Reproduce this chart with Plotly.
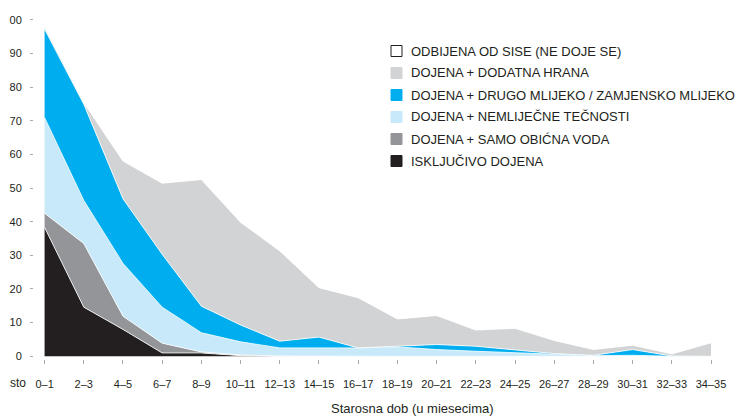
import plotly.graph_objects as go

FONT = "Liberation Sans, Arial, sans-serif"
INK = "#231f20"

age_groups = ["0–1", "2–3", "4–5", "6–7", "8–9", "10–11", "12–13", "14–15", "16–17",
              "18–19", "20–21", "22–23", "24–25", "26–27", "28–29", "30–31", "32–33", "34–35"]

# percent of children in each feeding group (stacked bottom to top)
exclusive = [38.3, 14.6, 8.0, 1.0, 1.0, 0.2, 0, 0, 0, 0, 0, 0, 0, 0, 0, 0, 0, 0]
plain_water = [4.2, 18.9, 3.9, 2.9, 0.3, 0.2, 0.1, 0, 0, 0, 0, 0, 0, 0, 0, 0, 0, 0]
non_milk = [28.4, 12.8, 15.7, 10.7, 5.7, 3.9, 2.4, 2.5, 2.5, 2.8, 2.0, 1.5, 1.0, 0.5, 0.2, 0.3, 0, 0]
other_milk = [26.3, 28.6, 19.2, 15.7, 7.9, 5.0, 2.0, 3.2, 0, 0.2, 1.5, 1.5, 1.0, 0.3, 0.1, 1.7, 0.1, 0]
complementary = [0.6, 0.4, 11.2, 21.1, 37.6, 30.5, 26.8, 14.7, 14.9, 8.1, 8.6, 4.8, 6.3, 3.9, 1.7, 1.3, 0.6, 4.0]
weaned = [2.2, 24.5, 42.0, 48.6, 47.5, 60.2, 68.7, 79.6, 82.6, 88.9, 87.9, 92.2, 91.7, 95.3, 98.0, 96.7, 99.3, 96.0]

y_ticks = [0, 10, 20, 30, 40, 50, 60, 70, 80, 90, 100]
y_ticktext = ["0", "10", "20", "30", "40", "50", "60", "70", "80", "90", "00"]

series = [
    ("ISKLJUČIVO DOJENA", exclusive, "#231f20"),
    ("DOJENA + SAMO OBIĆNA VODA", plain_water, "#939598"),
    ("DOJENA + NEMLIJEČNE TEČNOSTI", non_milk, "#c7e9f9"),
    ("DOJENA + DRUGO MLIJEKO / ZAMJENSKO MLIJEKO", other_milk, "#00aeef"),
    ("DOJENA + DODATNA HRANA", complementary, "#d1d3d4"),
    ("ODBIJENA OD SISE (NE DOJE SE)", weaned, "#ffffff"),
]

# the page body adds an 8px offset, so the figure is 8px smaller than the window
OFF = 8
W, H = 744 - OFF, 416 - OFF
L, R, T, B = 26, 13, 10, 57


def px(x, y):
    """Window pixel position -> paper coordinates."""
    return ((x - OFF - L) / (W - L - R), (H - B - (y - OFF)) / (H - T - B))


x_idx = list(range(len(age_groups)))

fig = go.Figure()
for name, vals, col in series:
    fig.add_trace(go.Scatter(
        x=x_idx, y=vals, name=name, stackgroup="one", mode="lines",
        line=dict(color="white", width=0.8), fillcolor=col,
        showlegend=False,
    ))

# hand-drawn legend, top to bottom as in the original
for i, (name, vals, col) in enumerate(reversed(series)):
    cy = 51 + 22 * i
    x0, y0 = px(391, cy - 5.5)
    x1, y1 = px(402, cy + 5.5)
    fig.add_shape(type="rect", xref="paper", yref="paper", x0=x0, x1=x1, y0=y0, y1=y1,
                  fillcolor=col, line=dict(color=INK if col == "#ffffff" else col, width=1))
    tx, ty = px(409, cy)
    fig.add_annotation(text=name, x=tx, y=ty, xref="paper", yref="paper",
                       xanchor="left", yanchor="middle", showarrow=False,
                       font=dict(family=FONT, size=13, color=INK))

sx, sy = px(8, 383)
fig.add_annotation(text="sto", x=sx, y=sy, xref="paper", yref="paper",
                   xanchor="left", yanchor="middle", showarrow=False,
                   font=dict(family=FONT, size=12, color=INK))
ax, ay = px(412, 408)
fig.add_annotation(text="Starosna dob (u miesecima)", x=ax, y=ay, xref="paper", yref="paper",
                   xanchor="center", yanchor="middle", showarrow=False,
                   font=dict(family=FONT, size=13, color=INK))

fig.update_layout(
    width=W, height=H,
    margin=dict(l=L, r=R, t=T, b=B, autoexpand=False),
    plot_bgcolor="white", paper_bgcolor="white",
    font=dict(family=FONT, size=11, color=INK),
    showlegend=False,
    xaxis=dict(
        range=[-0.27, 17.51], tickmode="array", tickvals=x_idx, ticktext=age_groups,
        ticks="outside", ticklen=4, tickcolor="#a7a9ac", showgrid=False,
        zeroline=False, showline=False, ticklabelstandoff=11, automargin=False,
    ),
    yaxis=dict(
        range=[-0.8, 100.5], tickmode="array", tickvals=y_ticks, ticktext=y_ticktext,
        ticks="outside", ticklen=3, tickcolor="#a7a9ac", showgrid=False,
        zeroline=False, showline=False, ticklabelstandoff=6, automargin=False,
    ),
)

fig.write_html("out.html")
